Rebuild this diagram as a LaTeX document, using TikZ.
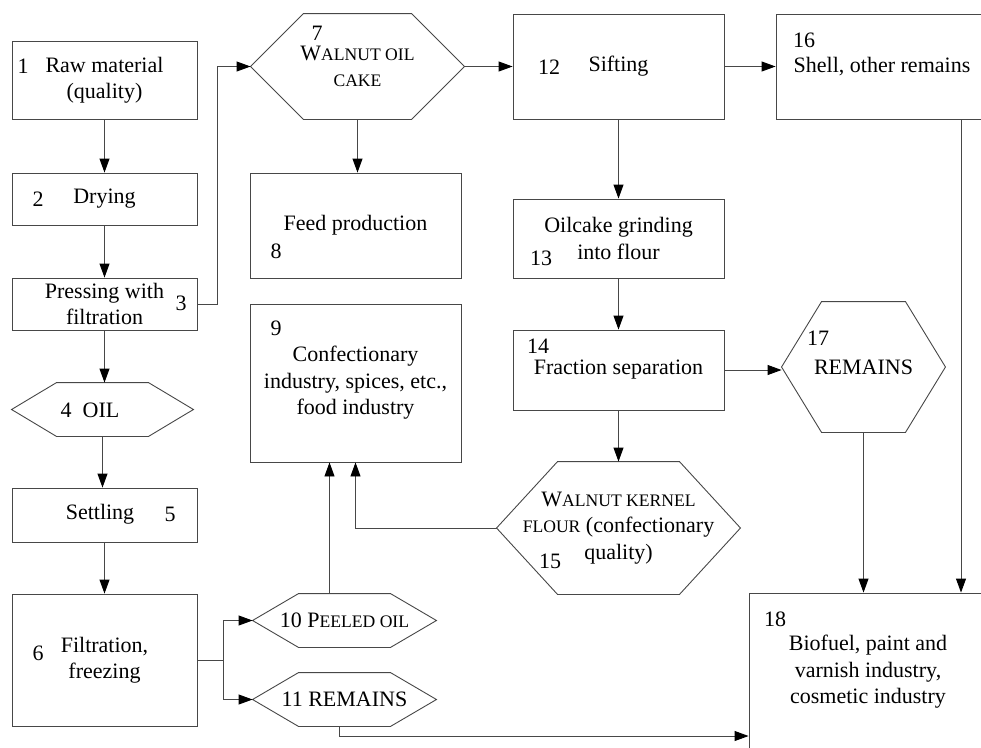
\documentclass[tikz,border=0pt]{standalone}
\usepackage{fontspec}
\setmainfont{Liberation Serif}
\usepackage{tikz}
\usetikzlibrary{calc,arrows.meta}

\newcommand{\smc}[1]{{\fontsize{17.6}{26.5}\selectfont #1}}
\newcommand{\hexline}[2]{%
    \draw (#1.west) -- ($(#1.north west)+(#2,0)$) -- ($(#1.north east)+(-#2,0)$) -- (#1.east)
        -- ($(#1.south east)+(-#2,0)$) -- ($(#1.south west)+(#2,0)$) -- cycle;}

\begin{document}
\begin{tikzpicture}[x=1pt, y=-1pt, line width=0.9pt, draw=black!72,
        font=\fontsize{22}{26.5}\selectfont,
        box/.style={draw, inner sep=0pt, align=center},
        hexa/.style={inner sep=0pt, align=center},
        tag/.style={inner sep=0pt},
        >={Triangle[length=14pt, width=10pt, color=black]}]
            \useasboundingbox (0,0) rectangle (981,747);
            \clip (0,0) rectangle (981,747);

            \node [box, minimum width=185pt, minimum height=78pt] (n1) at (104.5, 80) {Raw material\\(quality)};
            \node [box, minimum width=185pt, minimum height=52pt] (n2) at (104.5, 199) {Drying};
            \node [box, minimum width=185pt, minimum height=52pt] (n3) at (104.5, 304) {Pressing with\\filtration};
            \node [hexa, minimum width=181pt, minimum height=53pt] (n4) at (102.5, 409.5) {};
            \node [box, minimum width=185pt, minimum height=54pt] (n5) at (104.5, 515) {};
            \node [box, minimum width=185pt, minimum height=132pt] (n6) at (104.5, 660) {Filtration,\\freezing};
            \node [hexa, minimum width=213pt, minimum height=105pt] (n7) at (357.5, 66.5) {W\smc{ALNUT OIL}\\\smc{CAKE}};
            \node [box, minimum width=211pt, minimum height=105pt] (n8) at (355.5, 225.5) {Feed production};
            \node [box, minimum width=211pt, minimum height=158pt] (n9) at (355.5, 383) {Confectionary\\industry, spices, etc.,\\food industry};
            \node [hexa, minimum width=183pt, minimum height=53pt] (n10) at (344.5, 620.5) {10 P\smc{EELED OIL}};
            \node [hexa, minimum width=183pt, minimum height=53pt] (n11) at (344.5, 699.5) {11 REMAINS};
            \node [box, minimum width=211pt, minimum height=105pt] (n12) at (618.5, 66.5) {Sifting};
            \node [box, minimum width=211pt, minimum height=79pt] (n13) at (618.5, 238.5) {Oilcake grinding\\into flour};
            \node [box, minimum width=211pt, minimum height=80pt] (n14) at (618.5, 370) {Fraction separation};
            \node [hexa, minimum width=243pt, minimum height=132pt] (n15) at (618.5, 528) {W\smc{ALNUT KERNEL}\\\smc{FLOUR} (confectionary\\quality)};
            \node [box, minimum width=370pt, minimum height=105pt] (n16) at (961, 66.5) {};
            \node [hexa, minimum width=163pt, minimum height=130pt] (n17) at (863.5, 367) {REMAINS};
            \node [box, minimum width=424pt, minimum height=286pt] (n18) at (961, 736) {};

            \hexline{n4}{45}
            \hexline{n7}{53}
            \hexline{n10}{46}
            \hexline{n11}{46}
            \hexline{n15}{61}
            \hexline{n17}{40}

            \node [tag] (l1) at (23, 66) {1};
            \node [tag] (l2) at (38, 199) {2};
            \node [tag] (l3) at (181, 303) {3};
            \node [tag] (t4) at (90, 410) {4~~OIL};
            \node [tag] (t5) at (100, 514) {Settling};
            \node [tag] (l5) at (170, 514) {5};
            \node [tag] (l6) at (38, 653) {6};
            \node [tag] (l7) at (317, 33) {7};
            \node [tag] (l8) at (276, 251) {8};
            \node [tag] (l9) at (276, 328) {9};
            \node [tag] (l12) at (549, 67) {12};
            \node [tag] (l13) at (541, 258) {13};
            \node [tag] (l14) at (538, 346) {14};
            \node [tag] (l15) at (550, 561) {15};
            \node [tag] (l16) at (804, 40) {16};
            \node [tag] (t16) at (882, 67) {Shell, other remains};
            \node [tag] (l17) at (818, 338) {17};
            \node [tag] (l18) at (775, 619) {18};
            \node [tag, align=center] (t18) at (868, 672) {Biofuel, paint and\\varnish industry,\\cosmetic industry};

            \path (n10.north) ++(-15,0) coordinate (c10);
            \path (n11.south) ++(-5,0) coordinate (c11);

            \draw [->] (n1) -- (n2);
            \draw [->] (n2) -- (n3);
            \draw [->] (n3.east) -- ++(20,0) |- (n7.west);
            \draw [->] (n3.south) -- (n3.south |- n4.north);
            \draw [->] (n4.south) -- (n4.south |- n5.north);
            \draw [->] (n5) -- (n6);
            \draw [->] (n6.east) -- ++(26,0) |- (n10.west);
            \draw [->] (n6.east) -- ++(26,0) |- (n11.west);
            \draw [->] (c10) -- (c10 |- n9.south);
            \draw [->] (n15.west) -| (n9.south);
            \draw [->] (c11) |- (n18.west);
            \draw [->] (n7) -- (n12);
            \draw [->] (n7.south) -- (n7.south |- n8.north);
            \draw [->] (n12) -- (n16);
            \draw [->] (n12) -- (n13);
            \draw [->] (n13) -- (n14);
            \draw [->] (n14) -- (n15);
            \draw [->] (n14.east) -- (n14.east -| n17.west);
            \draw [->] (n16) -- (n18);
            \draw [->] (n17.south) -- (n17.south |- n18.north);
        \end{tikzpicture}
\end{document}
